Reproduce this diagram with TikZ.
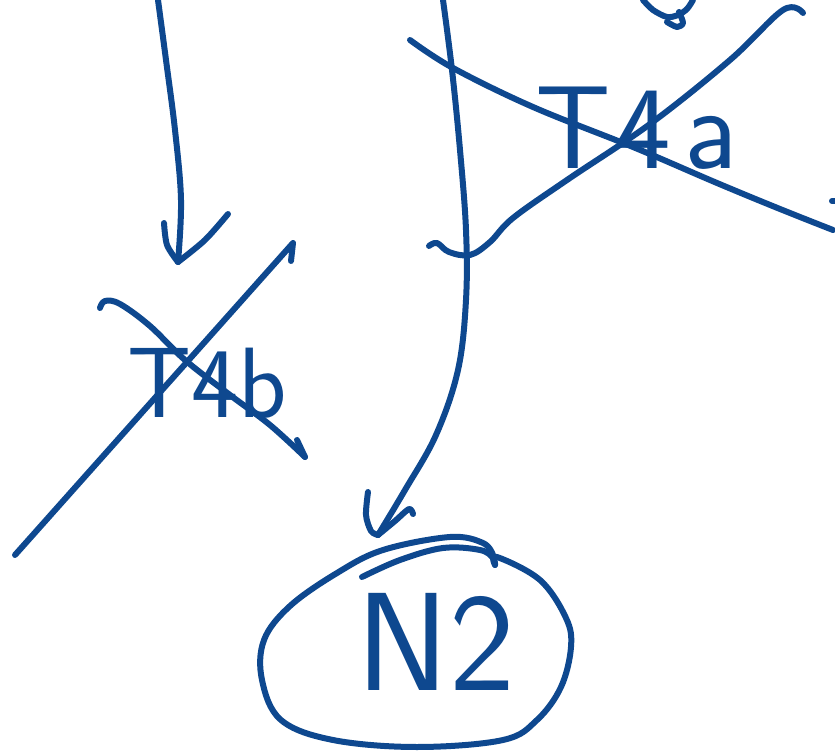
\documentclass[tikz,border=0pt]{standalone}
\usepackage{fontspec}
\definecolor{hand}{RGB}{14,72,143}
\tikzset{
  pen/.style={draw=hand, line width=6pt, line cap=round, line join=round},
  lbl/.style={text=hand, inner sep=0pt, font=\sffamily\fontsize{#1}{#1}\selectfont},
}
\begin{document}
\begin{tikzpicture}[x=1pt,y=-1pt]
\useasboundingbox (0,0) rectangle (835,751);
\fill[white] (0,0) rectangle (835,751);

% text nodes
\node[lbl=100] (t4b) at (207,383) {T4b};
\node[lbl=118] (t4a) at (637,128) {T\kern4pt4\kern14pt a};
\node[lbl=140] (n2) at (436,642) {N2};

% coordinates
\coordinate (a1s) at (158,0);
\coordinate (a1e) at (178,262);
\coordinate (a2s) at (443,0);
\coordinate (a2e) at (378,535);

% left arrow into T4b
\draw[pen] plot[smooth, tension=0.6] coordinates {(a1s) (166,60) (175,130) (181,200) (a1e)};
\draw[pen] plot[smooth] coordinates {(164,223) (167,245) (a1e)};
\draw[pen] plot[smooth] coordinates {(228,214) (205,240) (a1e)};

% T4b cross-out
\draw[pen] (15,555) -- (293,243) -- (291,261);
\draw[pen] plot[smooth, tension=0.6] coordinates {(100,308) (105,301) (120,304) (150,326) (185,360) (230,395) (270,425) (305,457)};
\draw[pen] (305,457) -- (297,440);

% T4a cross-out
\draw[pen] plot[smooth, tension=0.6] coordinates {(410,40) (453,68) (533,107) (633,147) (717,183) (780,209) (833,230)};
\draw[pen] plot[smooth, tension=0.6] coordinates {(429,246) (437,243) (449,252) (470,255) (490,242) (513,218) (567,180) (650,124) (730,60) (783,10) (803,13)};

% middle arrow into N2
\draw[pen] plot[smooth, tension=0.6] coordinates {(a2s) (452,70) (460,150) (466,230) (466,300) (458,370) (436,435) (405,490) (a2e)};
\draw[pen] plot[smooth] coordinates {(368,492) (366,515) (371,531) (a2e)};
\draw[pen] plot[smooth] coordinates {(413,514) (409,509) (395,521) (a2e)};

% circle round N2
\draw[pen] plot[smooth, tension=0.6] coordinates {(495,565) (497,557) (540,580) (566,618) (571,647) (561,687) (537,720) (503,740) (417,747) (333,740) (281,720) (262,680) (264,640) (290,606) (337,573) (383,550) (450,537) (483,543) (493,555)};
\draw[pen] plot[smooth, tension=0.6] coordinates {(362,577) (400,560) (443,548) (480,550) (493,558) (495,565)};

% fragment at top
\draw[pen] plot[smooth] coordinates {(643,0) (653,10) (667,17) (678,15) (687,9) (693,0)};
\draw[pen] plot[smooth] coordinates {(679,12) (683,23) (677,27) (667,22)};
\draw[pen] (832,201) -- (835,201);
\end{tikzpicture}
\end{document}
